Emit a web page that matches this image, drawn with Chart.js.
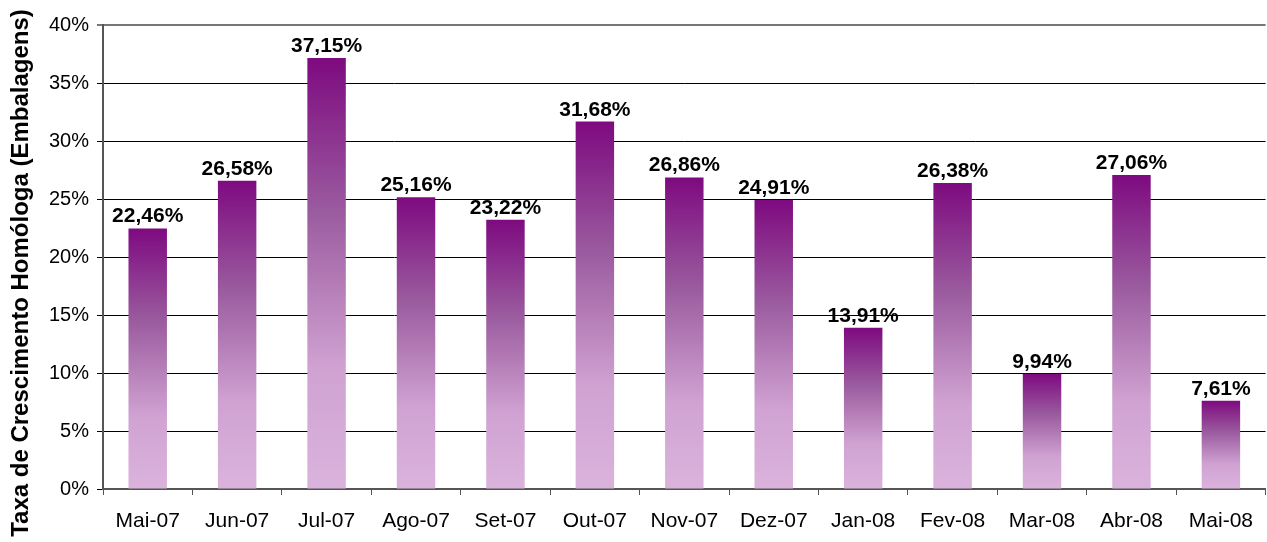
<!DOCTYPE html>
<html>
<head>
<meta charset="utf-8">
<script src="https://cdn.jsdelivr.net/npm/chart.js@4.4.0/dist/chart.umd.min.js"></script>
<style>
  html, body { margin: 0; padding: 0; background: #fff; }
  #wrap { width: 1267px; height: 542px; }
</style>
</head>
<body>
<div id="wrap"><canvas id="myChart" width="1267" height="542"></canvas></div>
<script>
const months = ['Mai-07', 'Jun-07', 'Jul-07', 'Ago-07', 'Set-07', 'Out-07', 'Nov-07',
                'Dez-07', 'Jan-08', 'Fev-08', 'Mar-08', 'Abr-08', 'Mai-08'];
const growth = [22.46, 26.58, 37.15, 25.16, 23.22, 31.68, 26.86, 24.91, 13.91, 26.38, 9.94, 27.06, 7.61];
const yTicks = [0, 5, 10, 15, 20, 25, 30, 35, 40];
const yTitle = 'Taxa de Crescimento Homóloga (Embalagens)';

const fmt = v => v.toFixed(2).replace('.', ',') + '%';
const FONT = '"Liberation Sans", Arial, sans-serif';

// gradient per bar, dark at the top going to light lilac
function barFill(c) {
    const chart = c.chart;
    const y = chart.scales && chart.scales.y;
    if (!chart.chartArea || !y || c.parsed === undefined) return '#a070a8';
    const top = y.getPixelForValue(c.parsed.y);
    const base = y.getPixelForValue(0);
    if (!isFinite(top) || !isFinite(base) || top === base) return '#a070a8';
    const g = chart.ctx.createLinearGradient(0, top, 0, base);
    g.addColorStop(0, '#7e0a80');
    g.addColorStop(0.35, '#9a5a9e');
    g.addColorStop(0.72, '#d0a2d2');
    g.addColorStop(1, '#dab3dc');
    return g;
}

// value labels over the bars + the rotated y title
const extras = {
    id: 'extras',
    afterDatasetsDraw(chart) {
        const ctx = chart.ctx;
        const meta = chart.getDatasetMeta(0);
        ctx.save();
        ctx.font = 'bold 21px ' + FONT;
        ctx.fillStyle = '#000';
        ctx.textAlign = 'center';
        ctx.textBaseline = 'alphabetic';
        meta.data.forEach((bar, i) => {
            ctx.fillText(fmt(growth[i]), bar.x, bar.y - 6);
        });
        ctx.restore();

        ctx.save();
        ctx.translate(21, 273);
        ctx.rotate(-Math.PI / 2);
        ctx.font = 'bold 24px ' + FONT;
        ctx.fillStyle = '#000';
        ctx.textAlign = 'center';
        ctx.textBaseline = 'middle';
        ctx.fillText(yTitle, 0, 0);
        ctx.restore();
    }
};

var config = {
    type: 'bar',
    data: {
        labels: months,
        datasets: [{
            data: growth,
            backgroundColor: barFill,
            borderWidth: 0,
            barPercentage: 0.43,
            categoryPercentage: 1
        }]
    },
    options: {
        animation: { duration: 0 },
        responsive: false,
        layout: { padding: { top: 25, right: 0, left: 0, bottom: 0 } },
        plugins: { legend: { display: false }, tooltip: { enabled: false } },
        scales: {
            x: {
                offset: true,
                afterFit: axis => { axis.height = 53; },
                border: { color: '#555', width: 2 },
                grid: { offset: true, drawOnChartArea: false, color: '#555', tickLength: 6 },
                ticks: {
                    color: '#000',
                    font: { family: FONT, size: 21 },
                    padding: 14,
                    maxRotation: 0
                }
            },
            y: {
                min: 0,
                max: 40,
                afterBuildTicks: axis => { axis.ticks = yTicks.map(v => ({ value: v })); },
                afterFit: axis => { axis.width = 103; },
                border: { color: '#555', width: 2 },
                grid: {
                    color: c => c.tick && c.tick.value === 40 ? '#777' : '#000',
                    lineWidth: c => c.tick && c.tick.value === 40 ? 2 : 1,
                    tickLength: 6
                },
                ticks: {
                    color: '#000',
                    font: { family: FONT, size: 20 },
                    padding: 8,
                    callback: v => v + '%'
                }
            }
        }
    },
    plugins: [extras]
};

var ctx = document.getElementById('myChart').getContext('2d');
window.myBar = new Chart(ctx, config);
</script>
</body>
</html>
